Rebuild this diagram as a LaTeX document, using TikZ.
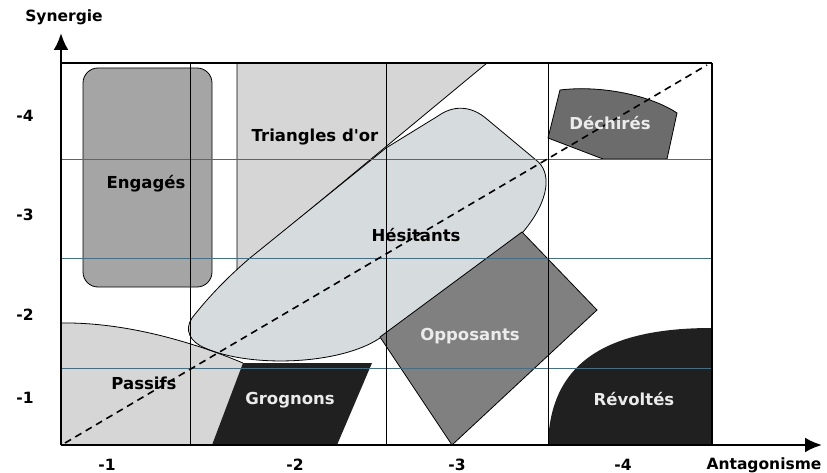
\documentclass[tikz,border=0pt]{standalone}
\usepackage{fontspec}
\setmainfont{DejaVu Sans}
\usetikzlibrary{arrows.meta}
\definecolor{lightzone}{RGB}{214,214,214}
\definecolor{hesicol}{RGB}{214,219,222}
\definecolor{engcol}{RGB}{165,165,165}
\definecolor{oppcol}{RGB}{128,128,128}
\definecolor{dechcol}{RGB}{108,108,108}
\definecolor{darkzone}{RGB}{32,32,32}
\definecolor{gridblue}{RGB}{70,110,130}

\begin{document}
\begin{tikzpicture}[x=1pt, y=-1pt,
    zone/.style={draw=black, line width=0.8pt},
    lbl/.style={font=\bfseries\fontsize{16.5}{18}\selectfont},
    wlbl/.style={lbl, text=black!8},
    axlbl/.style={font=\bfseries\fontsize{15.5}{17}\selectfont},
    axis/.style={line width=2.5pt, -{Latex[length=17pt,width=15pt]}},
    hline/.style={draw=gridblue, line width=0.8pt},
    vline/.style={draw=black, line width=0.9pt}
]
\useasboundingbox (0,0) rectangle (827,473);

\coordinate (O) at (61,445);
\coordinate (ytip) at (61,33);
\coordinate (xtip) at (822,445);
\coordinate (d0) at (65,443);
\coordinate (d1) at (707,65);

% zones
\fill[lightzone] (61,323) .. controls (130,322) and (200,345) .. (243,363) -- (212,445) -- (61,445) -- cycle;
\filldraw[zone, fill=lightzone] (237,63) -- (487,63) -- (237,270) -- cycle;
\filldraw[zone, fill=engcol, rounded corners=15pt] (83,68) rectangle (212,287);
\filldraw[zone, fill=hesicol] (386,148) -- (438,116) .. controls (452,106) and (470,104) .. (488,120)
    -- (536,160) .. controls (552,172) and (550,200) .. (523,232) -- (380,338)
    .. controls (340,365) and (250,368) .. (205,348) .. controls (190,342) and (184,330) .. (192,318)
    .. controls (210,295) and (230,275) .. (250,258) -- cycle;
\draw[line width=0.8pt] (61,323) .. controls (130,322) and (200,345) .. (243,363);
\fill[darkzone] (243,363) -- (372,363) -- (337,445) -- (212,445) -- cycle;
\filldraw[zone, fill=oppcol] (522,232) -- (597,310) -- (452,445) -- (380,337) -- cycle;
\fill[darkzone] (548,445) .. controls (550,360) and (610,328) .. (712,328) -- (712,445) -- cycle;
\filldraw[zone, fill=dechcol] (560,90) .. controls (600,85) and (650,95) .. (677,113)
    -- (667,159) -- (603,159) -- (548,138) -- cycle;

% grid and frame
\foreach \y in {159,258,368}
    \draw[hline] (61,\y) -- (712,\y);
\foreach \x in {190,386,548}
    \draw[vline] (\x,63) -- (\x,445);
\draw[line width=1.5pt] (61,63) -- (712,63);
\draw[line width=2.5pt] (712,63) -- (712,445);
\draw[line width=1.6pt, dash pattern=on 7pt off 5pt] (d0) -- (d1);

% axes
\draw[axis] (O) -- (ytip);
\draw[axis] (O) -- (xtip);
\node[axlbl] (syn) at (64,17) {Synergie};
\node[axlbl] (ant) at (764,465) {Antagonisme};

\node[axlbl] (x1) at (107,465) {-1};
\node[axlbl] (x2) at (295,465) {-2};
\node[axlbl] (x3) at (457,465) {-3};
\node[axlbl] (x4) at (623,465) {-4};
\node[axlbl] (y4) at (25,116) {-4};
\node[axlbl] (y3) at (25,215) {-3};
\node[axlbl] (y2) at (25,315) {-2};
\node[axlbl] (y1) at (25,398) {-1};

% zone names
\node[lbl] (eng) at (146,184) {Engagés};
\node[lbl] (tri) at (315,137) {Triangles d\textquotesingle or};
\node[lbl] (hes) at (416,235) {Hésitants};
\node[lbl] (pas) at (144,383) {Passifs};
\node[wlbl] (opp) at (470,336) {Opposants};
\node[wlbl] (gro) at (290,400) {Grognons};
\node[wlbl] (rev) at (634,399) {Révoltés};
\node[wlbl] (dec) at (610,123) {Déchirés};
\end{tikzpicture}
\end{document}
